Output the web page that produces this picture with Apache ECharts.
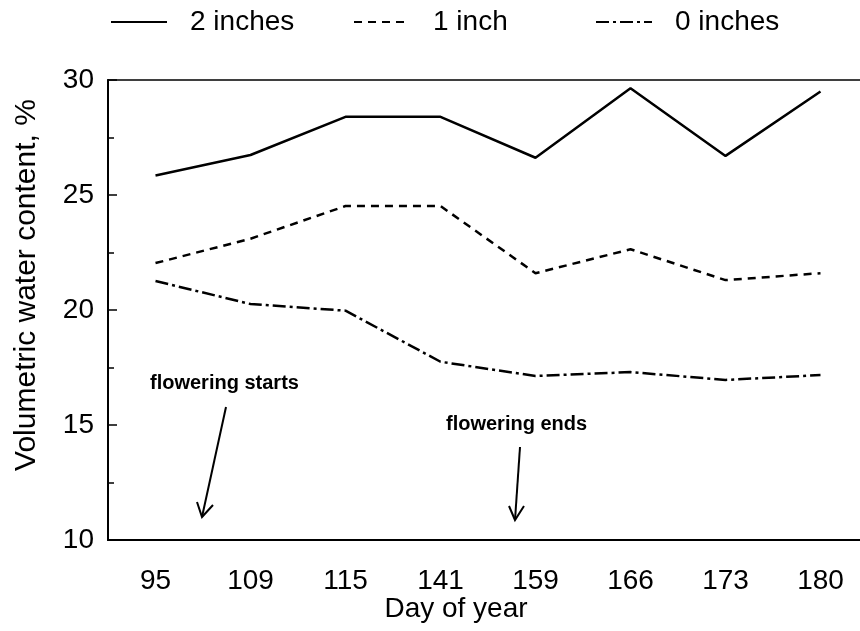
<!DOCTYPE html>
<html>
<head>
<meta charset="utf-8">
<script src="https://cdn.jsdelivr.net/npm/echarts@6/dist/echarts.min.js"></script>
<style>html,body{margin:0;padding:0;background:#fff}#c{width:860px;height:631px}</style>
</head>
<body>
<div id="c"></div>
<script>
var days = ['95', '109', '115', '141', '159', '166', '173', '180'];
var twoInches = [25.85, 26.74, 28.4, 28.4, 26.62, 29.64, 26.7, 29.5];
var oneInch = [22.04, 23.1, 24.52, 24.52, 21.6, 22.64, 21.3, 21.6];
var zeroInches = [21.26, 20.26, 19.97, 17.75, 17.13, 17.3, 16.96, 17.17];
var seriesNames = ['2 inches', '1 inch', '0 inches'];

var FONT = 'Liberation Sans, Arial, sans-serif';
var chart = echarts.init(document.getElementById('c'), null, {renderer: 'canvas'});
function lineSeries(name, data, type) {
  return {
    name: name, type: 'line', data: data, symbol: 'none',
    lineStyle: {color: '#000', width: 2.5, type: type},
    itemStyle: {color: '#000'}
  };
}
function legendFor(name, left) {
  return {
    left: left, top: 8, padding: 0, itemWidth: 56, itemHeight: 14,
    data: [name],
    itemStyle: {opacity: 0},
    textStyle: {fontFamily: FONT, fontSize: 28, color: '#000', padding: [0, 0, 0, 18]}
  };
}
chart.setOption({
  animation: false,
  backgroundColor: '#fff',
  textStyle: {fontFamily: FONT, color: '#000'},
  legend: [legendFor(seriesNames[0], 110), legendFor(seriesNames[1], 353), legendFor(seriesNames[2], 595)],
  grid: {left: 108, top: 80, width: 760, height: 460, outerBoundsMode: 'none', containLabel: false, show: true, borderColor: '#000', borderWidth: 1.5, backgroundColor: 'transparent'},
  xAxis: {
    type: 'category', data: days, boundaryGap: true,
    axisLine: {lineStyle: {color: '#000', width: 2}},
    axisTick: {inside: true, alignWithLabel: true, length: 9, lineStyle: {color: '#000', width: 1.5}},
    axisLabel: {fontFamily: FONT, fontSize: 28, color: '#000', margin: 27},
    splitLine: {show: false}
  },
  yAxis: {
    type: 'value', min: 10, max: 30, interval: 5,
    axisLine: {show: true, lineStyle: {color: '#000', width: 2}},
    axisTick: {show: true, inside: true, length: 9, lineStyle: {color: '#000', width: 1.5}},
    minorTick: {show: true, splitNumber: 2, length: 6, lineStyle: {color: '#000', width: 1.5}},
    axisLabel: {fontFamily: FONT, fontSize: 28, color: '#000', margin: 14},
    splitLine: {show: false}
  },
  series: [
    lineSeries(seriesNames[0], twoInches, 'solid'),
    lineSeries(seriesNames[1], oneInch, [8, 6]),
    lineSeries(seriesNames[2], zeroInches, [13, 4, 3, 4])
  ],
  graphic: [
    {type: 'text', x: 27, y: 285, rotation: Math.PI / 2, style: {text: 'Volumetric water content, %', font: '30px ' + FONT, fill: '#000', textAlign: 'center', textVerticalAlign: 'middle'}, silent: true},
    {type: 'text', x: 456, y: 609, style: {text: 'Day of year', font: '28px ' + FONT, fill: '#000', textAlign: 'center', textVerticalAlign: 'middle'}},
    {type: 'text', x: 150, y: 383, style: {text: 'flowering starts', font: 'bold 20px ' + FONT, fill: '#000', textAlign: 'left', textVerticalAlign: 'middle'}},
    {type: 'text', x: 446, y: 424, style: {text: 'flowering ends', font: 'bold 20px ' + FONT, fill: '#000', textAlign: 'left', textVerticalAlign: 'middle'}},
    {type: 'line', shape: {x1: 226, y1: 407, x2: 202, y2: 517}, style: {stroke: '#000', lineWidth: 2}},
    {type: 'polyline', shape: {points: [[197, 502], [202, 517], [213, 505]]}, style: {stroke: '#000', lineWidth: 2, fill: null}},
    {type: 'line', shape: {x1: 520, y1: 447, x2: 515, y2: 520}, style: {stroke: '#000', lineWidth: 2}},
    {type: 'polyline', shape: {points: [[509, 506], [515, 520], [524, 506]]}, style: {stroke: '#000', lineWidth: 2, fill: null}}
  ]
});
</script>
</body>
</html>
